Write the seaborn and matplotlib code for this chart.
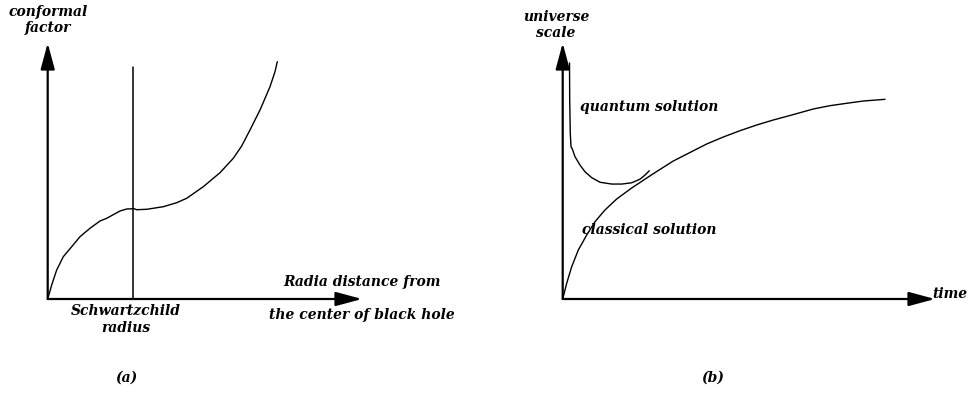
import matplotlib
matplotlib.use("Agg")
import matplotlib.pyplot as plt
import seaborn as sns
import pandas as pd

sns.set_style("white")
plt.rcParams['font.family'] = ['DejaVu Serif']
plt.rcParams['text.color'] = 'black'

# Panel (a): conformal factor vs radial distance (arbitrary units)
a_x = [0.0, 0.127, 0.286, 0.496, 0.764, 1.028, 1.346, 1.664, 1.877, 2.30, 2.514,
       2.746, 2.832, 3.150, 3.678, 4.104, 4.423, 4.951, 5.482, 5.905, 6.172,
       6.436, 6.755, 7.073, 7.232, 7.305]
a_y = [0.0, 0.547, 1.133, 1.652, 2.043, 2.434, 2.762, 3.047, 3.152, 3.4375, 3.516,
       3.527, 3.488, 3.504, 3.605, 3.762, 3.934, 4.387, 4.934, 5.496, 5.977,
       6.602, 7.383, 8.293, 8.879, 9.27]
schwarz_x = 2.71
schwarz_top = 9.06

# Panel (b): universe scale vs time
cl_x = [0.0, 0.107, 0.242, 0.419, 0.645, 0.868, 1.136, 1.450, 1.853, 2.299, 2.525,
        2.971, 3.419, 3.868, 4.314, 4.762, 5.211, 5.657, 6.105, 6.731, 7.177,
        7.628, 8.074, 8.657]
cl_y = [0.0, 0.613, 1.262, 1.914, 2.5, 3.02, 3.477, 3.906, 4.336, 4.766, 4.98,
        5.39, 5.723, 6.055, 6.328, 6.574, 6.797, 6.992, 7.168, 7.422, 7.551,
        7.645, 7.734, 7.80]
qu_x = [0.183, 0.188, 0.204, 0.223, 0.258, 0.330, 0.465, 0.599, 0.779, 1.002,
        1.316, 1.585, 1.853, 2.076, 2.210, 2.326]
qu_y = [9.22, 7.77, 6.47, 5.95, 5.86, 5.56, 5.23, 4.97, 4.74, 4.56,
        4.49, 4.49, 4.54, 4.68, 4.84, 5.01]

W, H = 971, 393
fig = plt.figure(figsize=(W / 100, H / 100), dpi=100)

ax_a = fig.add_axes([47.7 / W, (H - 299) / H, 314.3 / W, 256 / H])
ax_b = fig.add_axes([562.7 / W, (H - 299) / H, 372.3 / W, 256 / H])

font = dict(family='DejaVu Serif', style='italic', weight='bold', fontsize=10,
            color='black')
arrow_kw = dict(arrowstyle="-|>,head_length=1.6,head_width=0.43", color="black",
                lw=1.6, shrinkA=0, shrinkB=0, mutation_scale=10)


def draw_axes(ax):
    ax.set_xlim(0, 10)
    ax.set_ylim(0, 10)
    ax.axis('off')
    ax.annotate("", xy=(10, 0), xytext=(0, 0), arrowprops=arrow_kw,
                annotation_clip=False)
    ax.annotate("", xy=(0, 10), xytext=(0, 0), arrowprops=arrow_kw,
                annotation_clip=False)


draw_axes(ax_a)
df_a = pd.DataFrame({"x": a_x, "y": a_y})
sns.lineplot(data=df_a, x="x", y="y", sort=False, color="black", lw=1.0, ax=ax_a,
             estimator=None)
ax_a.plot([schwarz_x, schwarz_x], [0, schwarz_top], color="black", lw=1.1)
ax_a.axis('off')
ax_a.text(0, 10.9, "conformal\nfactor", ha='center', va='center', linespacing=1.15,
          clip_on=False, **font)
ax_a.text(10.0, 0.66, "Radia distance from", ha='center', va='center', **font)
ax_a.text(10.0, -0.625, "the center of black hole", ha='center', va='center', **font)
ax_a.text(2.49, -0.8, "Schwartzchild\nradius", ha='center', va='center',
          linespacing=1.2, **font)
ax_a.text(2.49, -3.09, "(a)", ha='center', va='center', **font)

draw_axes(ax_b)
df_c = pd.DataFrame({"x": cl_x, "y": cl_y})
df_q = pd.DataFrame({"x": qu_x, "y": qu_y})
sns.lineplot(data=df_c, x="x", y="y", sort=False, color="black", lw=1.0, ax=ax_b,
             estimator=None)
sns.lineplot(data=df_q, x="x", y="y", sort=False, color="black", lw=1.0, ax=ax_b,
             estimator=None)
ax_b.axis('off')
ax_b.text(-0.18, 10.7, "universe\nscale", ha='center', va='center', linespacing=1.15,
          clip_on=False, **font)
ax_b.text(2.32, 7.5, "quantum solution", ha='center', va='center', **font)
ax_b.text(2.32, 2.7, "classical solution", ha='center', va='center', **font)
ax_b.text(10.4, 0.2, "time", ha='center', va='center', **font)
ax_b.text(4.04, -3.09, "(b)", ha='center', va='center', **font)

fig.savefig("out.png", dpi=100)
